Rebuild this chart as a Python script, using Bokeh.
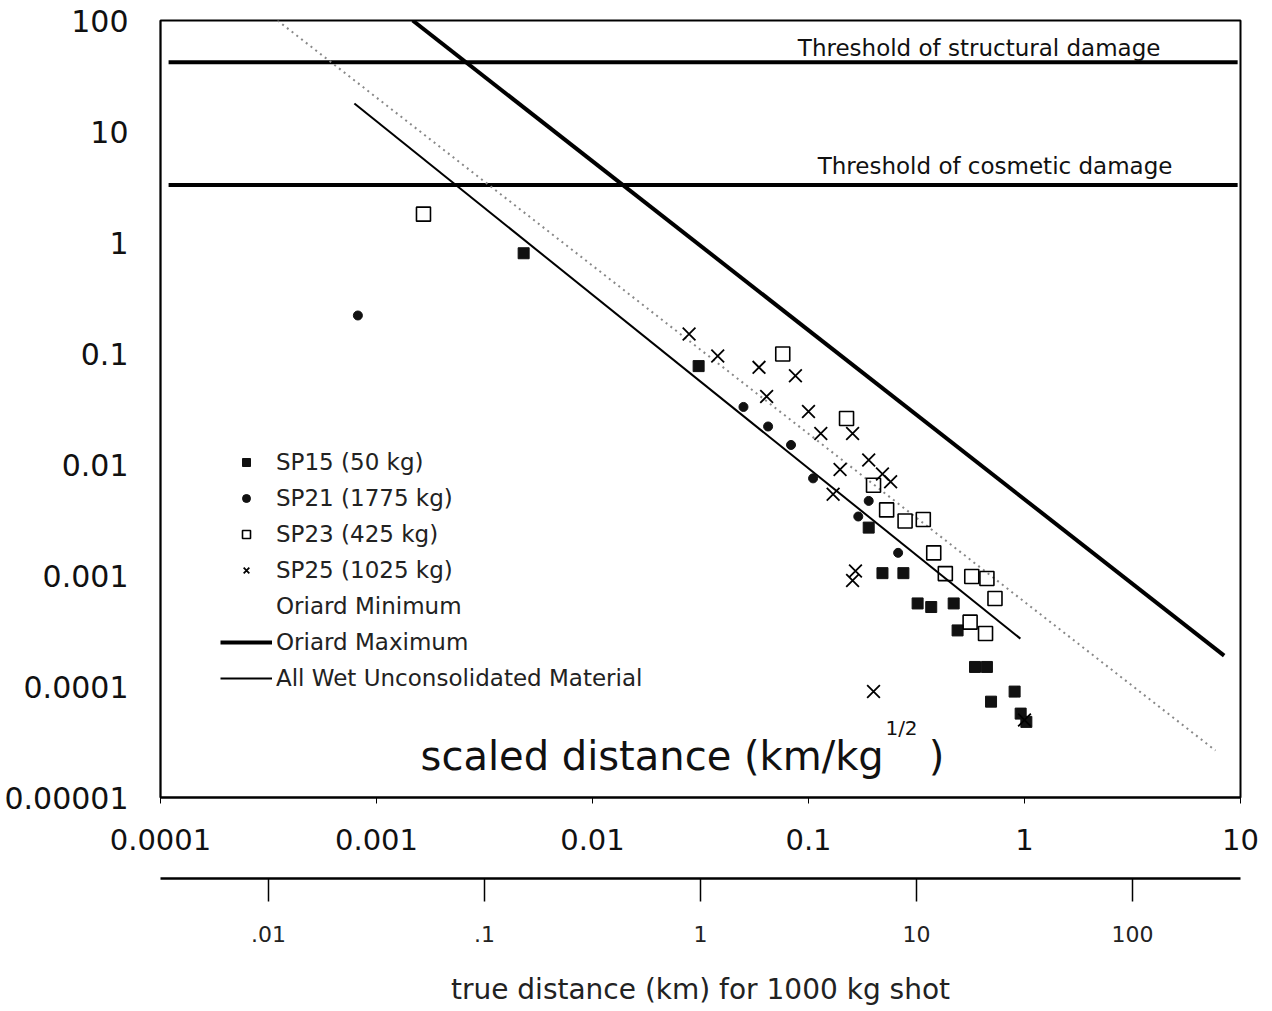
import math
from bokeh.plotting import figure
from bokeh.models import (Range1d, LogAxis, LogScale, FixedTicker, Label,
                          Legend, LegendItem)
from bokeh.embed import file_html
from bokeh.resources import INLINE

# ---------------- data ----------------
sp15_x = [0.0048, 0.031, 0.19, 0.22, 0.275, 0.32, 0.37, 0.47, 0.49, 0.59, 0.67, 0.70, 0.90, 0.96, 1.02]
sp15_y = [0.8, 0.077, 0.0027, 0.00105, 0.00105, 0.00056, 0.00052, 0.00056, 0.00032, 0.00015,
          0.00015, 7.3e-5, 9.0e-5, 5.7e-5, 4.8e-5]

sp21_x = [0.00082, 0.050, 0.065, 0.083, 0.105, 0.17, 0.19, 0.26]
sp21_y = [0.22, 0.033, 0.022, 0.015, 0.0075, 0.0034, 0.0047, 0.0016]

sp23_x = [0.00165, 0.076, 0.15, 0.20, 0.23, 0.28, 0.34, 0.38, 0.43, 0.57, 0.67, 0.73, 0.56, 0.66]
sp23_y = [1.8, 0.099, 0.026, 0.0065, 0.0039, 0.0031, 0.0032, 0.0016, 0.00104, 0.00098,
          0.00094, 0.00062, 0.00038, 0.0003]

sp25_x = [0.028, 0.038, 0.059, 0.087, 0.064, 0.10, 0.114, 0.16, 0.14, 0.19, 0.22, 0.24,
          0.13, 0.165, 0.16, 0.20, 1.0]
sp25_y = [0.15, 0.095, 0.075, 0.063, 0.041, 0.030, 0.019, 0.019, 0.009, 0.011, 0.0082, 0.007,
          0.0054, 0.0011, 0.0009, 9e-5, 5e-5]

oriard_min_x = [0.000348, 7.66]
oriard_min_y = [100, 2.65e-5]
oriard_max_x = [0.00147, 8.4]
oriard_max_y = [100, 0.00019]
wet_x = [0.00079, 0.957]
wet_y = [17.9, 0.00027]

threshold_values = [42, 3.3]
threshold_x = [0.000109, 9.7]
threshold_labels = ["Threshold of structural damage", "Threshold of cosmetic damage"]
threshold_label_x = [4.26, 4.84]
threshold_label_y = [57.0, 4.91]

series_labels = ["SP15 (50 kg)", "SP21 (1775 kg)", "SP23 (425 kg)", "SP25 (1025 kg)",
                 "Oriard Minimum", "Oriard Maximum", "All Wet Unconsolidated Material"]

x_ticks = [0.0001, 0.001, 0.01, 0.1, 1, 10]
x_tick_labels = ["0.0001", "0.001", "0.01", "0.1", "1", "10"]
y_ticks = [0.00001, 0.0001, 0.001, 0.01, 0.1, 1, 10, 100]
y_tick_labels = ["0.00001", "0.0001", "0.001", "0.01", "0.1", "1", "10", "100"]
true_ticks = [0.01, 0.1, 1, 10, 100]
true_tick_labels = [".01", ".1", "1", "10", "100"]
shot_kg = 1000

FONT = "DejaVu Sans"

p = figure(frame_width=1080, frame_height=777, x_axis_type="log", y_axis_type="log",
           x_range=Range1d(1e-4, 10), y_range=Range1d(1e-5, 100),
           output_backend="svg", toolbar_location=None,
           min_border_left=160, min_border_right=32, min_border_top=20, min_border_bottom=0)
p.background_fill_color = "white"
p.border_fill_color = "white"
p.xgrid.visible = False
p.ygrid.visible = False
p.outline_line_color = "black"
p.outline_line_width = 2

# main x axis
xa = p.xaxis[0]
xa.ticker = FixedTicker(ticks=x_ticks)
xa.major_label_overrides = {t: l for t, l in zip(x_ticks, x_tick_labels)}
xa.major_label_text_font = FONT
xa.major_label_text_font_size = "29px"
xa.major_label_text_color = "#111"
xa.major_tick_out = 6
xa.major_tick_in = 0
xa.minor_tick_line_color = None
xa.major_label_standoff = 25
xa.axis_line_width = 2
xa.axis_label = " "
xa.axis_label_text_font_size = "10px"
xa.axis_label_standoff = 12

# y axis
ya = p.yaxis[0]
ya.ticker = FixedTicker(ticks=y_ticks)
ya.major_label_overrides = {t: l for t, l in zip(y_ticks, y_tick_labels)}
ya.major_label_text_font = FONT
ya.major_label_text_font_size = "30px"
ya.major_label_text_color = "#111"
ya.major_tick_out = 0
ya.major_tick_in = 0
ya.minor_tick_line_color = None
ya.major_label_standoff = 32
ya.axis_line_width = 1.5

# secondary axis: true distance for a 1000 kg shot
f = math.sqrt(shot_kg)
p.extra_x_ranges = {"true": Range1d(1e-4 * f, 10 * f)}
p.extra_x_scales = {"true": LogScale()}
ax2 = LogAxis(x_range_name="true", ticker=FixedTicker(ticks=true_ticks))
ax2.major_label_overrides = {t: l for t, l in zip(true_ticks, true_tick_labels)}
ax2.major_label_text_font = FONT
ax2.major_label_text_font_size = "22px"
ax2.major_label_text_color = "#222"
ax2.major_tick_out = 23
ax2.major_tick_in = 0
ax2.major_tick_line_width = 1.5
ax2.minor_tick_line_color = None
ax2.major_label_standoff = 24
ax2.axis_line_width = 2.5
ax2.axis_label = "true distance (km) for 1000 kg shot"
ax2.axis_label_text_font = FONT
ax2.axis_label_text_font_size = "28px"
ax2.axis_label_text_font_style = "normal"
ax2.axis_label_text_color = "#222"
ax2.axis_label_standoff = 28
p.add_layout(ax2, "below")

# threshold lines
for v in threshold_values:
    p.line(threshold_x, [v, v], line_color="black", line_width=4)
for t, lx, ly in zip(threshold_labels, threshold_label_x, threshold_label_y):
    p.add_layout(Label(x=lx, y=ly, text=t, text_align="right", text_baseline="middle",
                       text_font=FONT, text_font_size="23px", text_color="#111"))

# model lines
r_min = p.line(oriard_min_x, oriard_min_y, line_color="#888888", line_width=2, line_dash="2 4")
r_min_leg = p.line(oriard_min_x, oriard_min_y, line_alpha=0)
r_max = p.line(oriard_max_x, oriard_max_y, line_color="black", line_width=4)
r_wet = p.line(wet_x, wet_y, line_color="black", line_width=2)

# data
r15 = p.scatter(sp15_x, sp15_y, marker="square", size=11, fill_color="#111", line_color="#111")
r21 = p.scatter(sp21_x, sp21_y, marker="circle", size=9, fill_color="#111", line_color="#111")
r23 = p.scatter(sp23_x, sp23_y, marker="square", size=14, fill_color=None, line_color="black",
                line_width=1.6)
r25 = p.scatter(sp25_x, sp25_y, marker="x", size=18, line_color="black", line_width=1.8)

legend = Legend(items=[LegendItem(label=series_labels[0], renderers=[r15]),
                       LegendItem(label=series_labels[1], renderers=[r21]),
                       LegendItem(label=series_labels[2], renderers=[r23]),
                       LegendItem(label=series_labels[3], renderers=[r25]),
                       LegendItem(label=series_labels[4], renderers=[r_min_leg]),
                       LegendItem(label=series_labels[5], renderers=[r_max]),
                       LegendItem(label=series_labels[6], renderers=[r_wet])],
                location=(60, 106), orientation="vertical", padding=0, margin=0, spacing=10,
                glyph_width=52, glyph_height=20, label_height=20, label_standoff=4,
                label_text_font=FONT, label_text_font_size="23px", label_text_color="#222",
                background_fill_alpha=0, border_line_alpha=0)
p.add_layout(legend)

# in-plot axis caption
p.add_layout(Label(x=0.0016, y=2.37e-5, text="scaled distance (km/kg", text_align="left",
                   text_baseline="middle", text_font=FONT, text_font_size="40px",
                   text_color="#111"))
p.add_layout(Label(x=0.227, y=4.2e-5, text="1/2", text_align="left",
                   text_baseline="middle", text_font=FONT, text_font_size="20px",
                   text_color="#111"))
p.add_layout(Label(x=0.36, y=2.37e-5, text=")", text_align="left",
                   text_baseline="middle", text_font=FONT, text_font_size="40px",
                   text_color="#111"))

open("out.html", "w").write(file_html(p, INLINE))
